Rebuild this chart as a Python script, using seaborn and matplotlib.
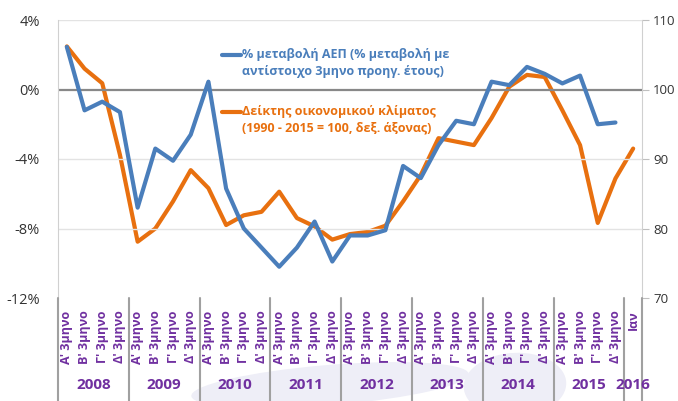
import matplotlib
matplotlib.use('Agg')
import matplotlib.pyplot as plt
import matplotlib.transforms as mtransforms
from matplotlib.patches import Ellipse
import numpy as np
import pandas as pd
import seaborn as sns

# ── Data ───────────────────────────────────────────────────────────────────────
quarters = ["Α' 3μηνο", "Β' 3μηνο", "Γ' 3μηνο", "Δ' 3μηνο"]
years = ['2008', '2009', '2010', '2011', '2012', '2013', '2014', '2015', '2016']
categories = quarters * 8 + ['Ιαν']

gdp_change = [2.45, -1.2, -0.7, -1.3, -6.8, -3.4, -4.1, -2.6, 0.45,
              -5.7, -8.0, -9.1, -10.2, -9.1, -7.6, -9.9, -8.4, -8.4,
              -8.1, -4.4, -5.1, -3.2, -1.8, -2.0, 0.45, 0.25, 1.3,
              0.9, 0.35, 0.8, -2.0, -1.9]
esi = [106.2, 103.0, 100.9, 90.6, 78.1, 80.0, 83.9, 88.4, 85.8,
       80.5, 81.9, 82.4, 85.3, 81.5, 80.3, 78.4, 79.2, 79.5,
       80.4, 83.9, 87.7, 93.0, 92.5, 92.0, 95.9, 100.4, 102.1,
       101.8, 97.0, 92.0, 80.8, 87.2, 91.5]

gdp_label = '% μεταβολή ΑΕΠ (% μεταβολή με\nαντίστοιχο 3μηνο προηγ. έτους)'
esi_label = 'Δείκτης οικονομικού κλίματος\n(1990 - 2015 = 100, δεξ. άξονας)'

blue = '#4A7EBB'
orange = '#E8700F'
purple = '#7030A0'

df_gdp = pd.DataFrame({'pos': np.arange(len(gdp_change)), 'value': gdp_change})
df_esi = pd.DataFrame({'pos': np.arange(len(esi)), 'value': esi})

# ── Figure ─────────────────────────────────────────────────────────────────────
sns.set_style('white')
plt.rcParams['font.family'] = ['Open Sans', 'DejaVu Sans']

fig = plt.figure(figsize=(6.78, 4.01), dpi=100)
ax = fig.add_axes([58 / 678, 1 - 298 / 401, 584 / 678, 278 / 401])
ax2 = ax.twinx()

# faint logo watermark behind the labels
for (cx, cy, w, h, ang) in [(330, 385, 280, 40, 8), (515, 385, 110, 60, 70)]:
    fig.patches.append(Ellipse((cx / 678, 1 - cy / 401), w / 678, h / 401, angle=ang,
                               transform=fig.transFigure, facecolor='#EEEEF7',
                               edgecolor='none', zorder=0))

sns.lineplot(data=df_gdp, x='pos', y='value', ax=ax, color=blue, linewidth=3.0,
             zorder=5, legend=False, solid_joinstyle='round', solid_capstyle='round')
sns.lineplot(data=df_esi, x='pos', y='value', ax=ax2, color=orange, linewidth=3.0,
             zorder=5, legend=False, solid_joinstyle='round', solid_capstyle='round')

ax.set_zorder(ax2.get_zorder() + 1)
ax.patch.set_visible(False)

# ── Axes ───────────────────────────────────────────────────────────────────────
ax.set_xlim(-0.5, len(categories) - 0.5)
ax.set_ylim(-12, 4)
ax2.set_ylim(70, 110)

ax.set_yticks([-12, -8, -4, 0, 4])
ax.set_yticklabels(['-12%', '-8%', '-4%', '0%', '4%'], fontsize=10.5, color='#333333')
ax2.set_yticks([70, 80, 90, 100, 110])
ax2.set_yticklabels(['70', '80', '90', '100', '110'], fontsize=9.5, color='#333333')

for y in [-8, -4, 4]:
    ax.axhline(y, color='#E3E3E3', lw=1.0, zorder=1)
ax.axhline(0, color='#888888', lw=1.6, zorder=2)

ax.tick_params(axis='y', length=0, pad=13)
ax2.tick_params(axis='y', length=5, color='#BFBFBF', pad=3)

ax.set_xticks(np.arange(len(categories)))
ax.set_xticklabels(categories, rotation=90, fontsize=9, fontweight='bold',
                   color=purple, va='top', ha='center')
ax.tick_params(axis='x', length=0, pad=9)
ax.set_xlabel('')
ax.set_ylabel('')
ax2.set_ylabel('')

for a in (ax, ax2):
    for s in a.spines.values():
        s.set_visible(False)
ax2.spines['right'].set_visible(True)
ax2.spines['right'].set_color('#D0D0D0')
ax.spines['left'].set_visible(True)
ax.spines['left'].set_color('#D0D0D0')

# group separators below the plot
trans = mtransforms.blended_transform_factory(ax.transData, ax.transAxes)
bottom = -103 / 278
for xb in [-0.5, 3.5, 7.5, 11.5, 15.5, 19.5, 23.5, 27.5, 31.5, 32.5]:
    ax.plot([xb, xb], [0, bottom], transform=trans, color='#A0A0A0', lw=1.5,
            clip_on=False, zorder=3)

year_centers = [1.5 + 4 * i for i in range(8)] + [32]
for xc, yr in zip(year_centers, years):
    ax.text(xc, -87 / 278, yr, transform=trans, ha='center', va='center',
            fontsize=11, fontweight='bold', color=purple)

# ── Legend (inline text) ───────────────────────────────────────────────────────
fig.lines.append(plt.Line2D([222 / 678, 241 / 678], [1 - 55 / 401] * 2,
                            transform=fig.transFigure, color=blue, lw=3.0))
fig.text(242 / 678, 1 - 63 / 401, gdp_label, color=blue, fontsize=9,
         fontweight='bold', ha='left', va='center', linespacing=1.35)
fig.lines.append(plt.Line2D([222 / 678, 241 / 678], [1 - 112 / 401] * 2,
                            transform=fig.transFigure, color=orange, lw=3.0))
fig.text(242 / 678, 1 - 120 / 401, esi_label, color=orange, fontsize=9,
         fontweight='bold', ha='left', va='center', linespacing=1.35)

fig.savefig('out.png', dpi=100)
plt.close(fig)
print("Saved out.png")
